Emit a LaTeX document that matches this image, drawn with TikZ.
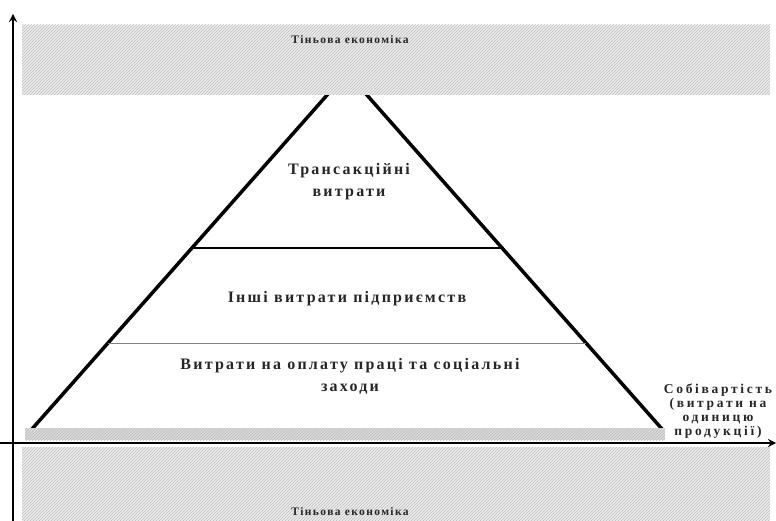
\documentclass[tikz,border=0pt]{standalone}
\usepackage{fontspec}
\setmainfont{Liberation Serif}
\newfontfamily\widefont[LetterSpace=14]{Liberation Serif}
\newfontfamily\sidefont[LetterSpace=20]{Liberation Serif}
\newfontfamily\bandfont[LetterSpace=12]{Liberation Serif}
\usetikzlibrary{patterns}

\begin{document}
\begin{tikzpicture}[x=1pt,y=-1pt,
            band/.style={fill=gray!15, postaction={pattern=north east lines, pattern color=gray!50}},
            lbl/.style={font=\widefont\bfseries\fontsize{16}{22}\selectfont, align=center, text=black!85, inner sep=0pt},
            side/.style={font=\sidefont\bfseries\fontsize{13.5}{14}\selectfont, align=center, text=black!85, inner sep=0pt},
            shadow/.style={font=\bandfont\bfseries\fontsize{11.5}{14}\selectfont, text=black!85, inner sep=0pt}]
        \useasboundingbox (0,0) rectangle (776,521);
				% pyramid
				\coordinate (apex) at (347,72.5);
				\coordinate (bl) at (32,429);
				\coordinate (br) at (662,429);
				\draw[line width=3.5pt, line join=miter] (bl) -- (apex) -- (br);
				\draw[line width=2.5pt] (192,248) -- (503,248);
				\draw[gray, line width=0.6pt] (108,343) -- (586,343);

				% shadow economy
				\path[band] (22,25) rectangle (770,95);
				\path[band] (22,447) rectangle (770,521);
				\path[band, fill=gray!30] (25,428) rectangle (665,440);
				\node[shadow] (topshadow) at (350,40) {Тіньова економіка};
				\node[shadow] (botshadow) at (350,512) {Тіньова економіка};

				% axes
				\coordinate (xs) at (0,443);
				\coordinate (xe) at (776,443);
				\coordinate (ys) at (13,521);
				\coordinate (ye) at (13,14);
				\draw[line width=2.5pt,-stealth] (xs) -- (xe);
				\draw[line width=2.5pt,-stealth] (ys) -- (ye);

				% levels
				\node[lbl] (trans) at (349,182) {Трансакційні\\витрати};
				\node[lbl] (other) at (347,299) {Інші витрати підприємств};
				\node[lbl] (labour) at (350,376) {Витрати на оплату праці та соціальні\\заходи};
				\node[side] (cost) at (718,411) {Собівартість\\(витрати на\\одиницю\\продукції)};
 		\end{tikzpicture}
\end{document}
